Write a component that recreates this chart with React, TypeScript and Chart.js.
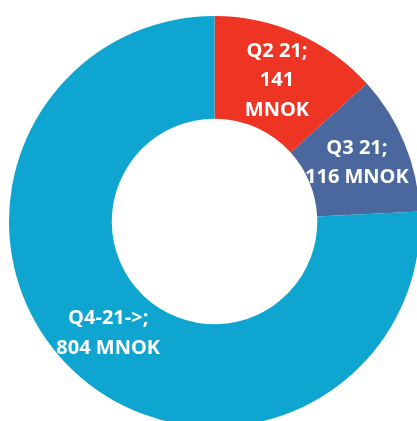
import React, { useEffect, useRef } from "react";
import { Chart, registerables } from "chart.js";

Chart.register(...registerables);

const categories = ["Q2 21", "Q3 21", "Q4-21->"];
const values = [141, 116, 804];
const labelLines = [
  ["Q2 21;", "141", "MNOK"],
  ["Q3 21;", "116 MNOK"],
  ["Q4-21->;", "804 MNOK"],
];
const colors = ["#EE3524", "#4A689E", "#0EA5D1"];

const labelPlugin = {
  id: "sliceLabels",
  afterDatasetsDraw(chart: any) {
    const ctx = chart.ctx;
    const meta = chart.getDatasetMeta(0);
    ctx.save();
    ctx.fillStyle = "#FFFFFF";
    ctx.font = "bold 20px 'Open Sans'";
    ctx.textAlign = "center";
    ctx.textBaseline = "middle";
    const lh = 29.5;
    meta.data.forEach((arc: any, i: number) => {
      const p = arc.tooltipPosition();
      const lines = labelLines[i];
      const start = p.y - ((lines.length - 1) * lh) / 2;
      lines.forEach((t, j) => ctx.fillText(t, p.x, start + j * lh));
    });
    ctx.restore();
  },
};

export default function App() {
  const ref = useRef<HTMLCanvasElement>(null);
  useEffect(() => {
    if (!ref.current) return;
    const chart = new Chart(ref.current, {
      type: "doughnut",
      data: {
        labels: categories,
        datasets: [
          {
            data: values,
            backgroundColor: colors,
            borderWidth: 0,
          },
        ],
      },
      options: {
        responsive: false,
        animation: false,
        cutout: "50%",
        layout: { padding: 0 },
        plugins: {
          legend: { display: false },
          tooltip: { enabled: false },
        },
      },
      plugins: [labelPlugin],
    });
    return () => chart.destroy();
  }, []);
  return (
    <div
      style={{
        position: "fixed",
        left: 0,
        top: 0,
        width: 417,
        height: 421,
        overflow: "hidden",
        background: "#fff",
      }}
    >
      <canvas
        ref={ref}
        width={411}
        height={411}
        style={{ position: "absolute", left: 9, top: 16, width: 411, height: 411 }}
      />
    </div>
  );
}
